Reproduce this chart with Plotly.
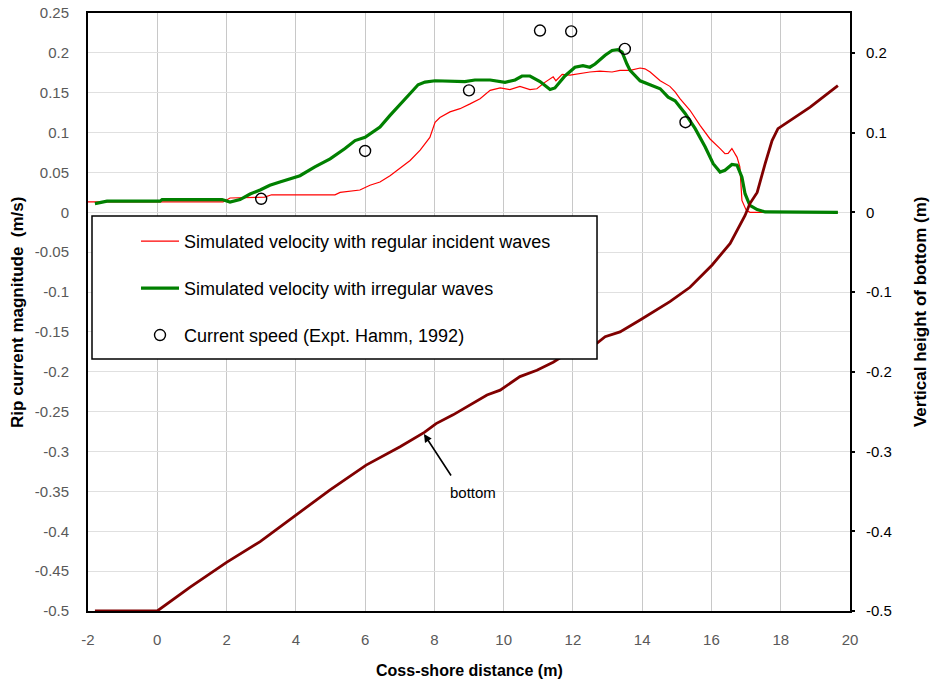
import plotly.graph_objects as go

# ---------------- data ----------------
reg_x = [-2.0, 1.9, 2.1, 2.68, 3.1, 3.3, 5.13, 5.28, 5.85, 6.14, 6.43, 6.72, 7.01, 7.30, 7.59, 7.87,
         8.02, 8.16, 8.45, 8.74, 9.03, 9.32, 9.61, 9.90, 10.18, 10.47, 10.76, 10.96, 11.19, 11.43,
         11.51, 11.69, 11.92, 12.06, 12.49, 12.78, 13.13, 13.36, 13.65, 13.94, 14.08, 14.23, 14.52,
         14.80, 14.95, 15.09, 15.38, 15.67, 15.96, 16.25, 16.39, 16.48, 16.59, 16.74, 16.82, 16.88,
         17.00, 17.11, 19.65]
reg_y = [0.013, 0.013, 0.018, 0.019, 0.019, 0.022, 0.022, 0.025, 0.028, 0.034, 0.038, 0.046, 0.055,
         0.065, 0.078, 0.094, 0.113, 0.119, 0.126, 0.130, 0.136, 0.1425, 0.153, 0.156, 0.154, 0.158,
         0.154, 0.155, 0.163, 0.170, 0.165, 0.173, 0.172, 0.173, 0.176, 0.177, 0.176, 0.178, 0.178,
         0.181, 0.180, 0.176, 0.165, 0.158, 0.151, 0.1425, 0.128, 0.109, 0.092, 0.080, 0.0735, 0.074,
         0.080, 0.069, 0.057, 0.015, 0.003, 0.0, 0.0]

irr_x = [-1.80, -1.57, -1.45, 0.08, 0.14, 1.87, 2.10, 2.39, 2.68, 2.97, 3.25, 3.54, 3.83, 4.12, 4.55,
         4.99, 5.42, 5.71, 6.00, 6.29, 6.43, 6.72, 7.01, 7.30, 7.53, 7.73, 8.02, 8.45, 8.88, 9.17,
         9.61, 10.04, 10.33, 10.53, 10.76, 11.05, 11.34, 11.48, 11.77, 12.06, 12.29, 12.49, 12.64,
         12.93, 13.13, 13.30, 13.42, 13.56, 13.65, 13.94, 14.23, 14.52, 14.75, 14.95, 15.24, 15.53,
         15.82, 16.05, 16.25, 16.39, 16.59, 16.74, 16.88, 16.97, 17.11, 17.32, 17.55, 19.65]
irr_y = [0.011, 0.0125, 0.014, 0.014, 0.016, 0.016, 0.013, 0.016, 0.023, 0.028, 0.034, 0.038, 0.042,
         0.046, 0.057, 0.067, 0.080, 0.090, 0.094, 0.102, 0.107, 0.1216, 0.136, 0.149, 0.160, 0.1634,
         0.165, 0.164, 0.164, 0.166, 0.166, 0.163, 0.166, 0.171, 0.171, 0.164, 0.154, 0.156, 0.171,
         0.182, 0.184, 0.182, 0.186, 0.197, 0.203, 0.204, 0.201, 0.186, 0.178, 0.165, 0.160, 0.155,
         0.1445, 0.140, 0.124, 0.105, 0.082, 0.061, 0.0505, 0.0527, 0.060, 0.059, 0.044, 0.0234,
         0.0088, 0.0034, 0.0005, 0.0]

obs_x = [3.0, 6.0, 9.0, 11.05, 11.95, 13.5, 15.25]
obs_y = [0.017, 0.077, 0.153, 0.228, 0.227, 0.205, 0.113]

bot_x = [-1.80, 0.0, 0.95, 2.0, 2.97, 4.0, 4.99, 6.03, 7.01, 7.71, 8.05, 8.54, 9.03, 9.52, 9.90, 10.10,
         10.47, 10.96, 11.43, 11.69, 12.2, 12.70, 12.93, 13.36, 13.94, 14.23, 14.80, 15.38, 16.02,
         16.54, 16.97, 17.11, 17.32, 17.55, 17.75, 17.92, 18.27, 18.85, 19.65]
bot_y = [-0.5, -0.5, -0.470, -0.439, -0.413, -0.380, -0.348, -0.317, -0.294, -0.276, -0.265, -0.254,
         -0.242, -0.229, -0.223, -0.217, -0.206, -0.198, -0.188, -0.181, -0.172, -0.164, -0.156,
         -0.150, -0.135, -0.127, -0.112, -0.094, -0.066, -0.039, -0.004, 0.011, 0.025, 0.061, 0.090,
         0.105, 0.115, 0.132, 0.159]

x_ticks = [-2, 0, 2, 4, 6, 8, 10, 12, 14, 16, 18, 20]
x_tick_text = ["-2", "0", "2", "4", "6", "8", "10", "12", "14", "16", "18", "20"]
left_ticks = [0.25, 0.2, 0.15, 0.1, 0.05, 0, -0.05, -0.1, -0.15, -0.2, -0.25, -0.3, -0.35, -0.4, -0.45, -0.5]
left_tick_text = ["0.25", "0.2", "0.15", "0.1", "0.05", "0", "-0.05", "-0.1", "-0.15", "-0.2",
                  "-0.25", "-0.3", "-0.35", "-0.4", "-0.45", "-0.5"]
right_ticks = [0.2, 0.1, 0, -0.1, -0.2, -0.3, -0.4, -0.5]
right_tick_text = ["0.2", "0.1", "0", "-0.1", "-0.2", "-0.3", "-0.4", "-0.5"]

FONT = "Liberation Sans, Arial, sans-serif"

fig = go.Figure()
fig.add_trace(go.Scatter(x=reg_x, y=reg_y, mode="lines", name="Simulated velocity with regular incident waves",
                         line=dict(color="#ff0000", width=1.2), legendgroup="a", legendrank=1))
fig.add_trace(go.Scatter(x=irr_x, y=irr_y, mode="lines", name="Simulated velocity with irregular waves",
                         line=dict(color="#008000", width=3.2), legendgroup="b", legendrank=2))
fig.add_trace(go.Scatter(x=obs_x, y=obs_y, mode="markers", name="Current speed (Expt. Hamm, 1992)",
                         marker=dict(symbol="circle-open", size=11, color="black", line=dict(width=1.4)),
                         legendgroup="c", legendrank=3))
fig.add_trace(go.Scatter(x=bot_x, y=bot_y, yaxis="y2", mode="lines", name="bottom",
                         line=dict(color="#800000", width=2.8), showlegend=False))

fig.update_layout(
    width=931, height=686,
    margin=dict(l=88, r=81, t=13, b=75, autoexpand=False),
    paper_bgcolor="white", plot_bgcolor="white",
    font=dict(family=FONT, size=15, color="black"),
    xaxis=dict(range=[-2, 20], tickvals=x_ticks, ticktext=x_tick_text, showgrid=True,
               gridcolor="#c8c8c8", gridwidth=1.3, showline=True, linecolor="black", linewidth=2,
               mirror=True, zeroline=False, ticks="", ticklabelstandoff=14, automargin=False,
               tickfont=dict(family=FONT, size=15, color="#595959")),
    yaxis=dict(range=[-0.5, 0.25], tickvals=left_ticks, ticktext=left_tick_text, showgrid=True,
               gridcolor="#e0e0e0", gridwidth=1, showline=True, linecolor="black", linewidth=2,
               zeroline=False, ticks="", ticklabelstandoff=14, automargin=False,
               tickfont=dict(family=FONT, size=15, color="#595959")),
    yaxis2=dict(range=[-0.5, 0.25], overlaying="y", side="right", tickvals=right_ticks,
                ticktext=right_tick_text, showgrid=False, showline=True, linecolor="black",
                linewidth=2, zeroline=False, ticks="outside", ticklen=3, tickwidth=1.5,
                tickcolor="black", ticklabelstandoff=8, automargin=False,
                tickfont=dict(family=FONT, size=15, color="black")),
    yaxis3=dict(range=[-0.5, 0.25], overlaying="y", side="right", tickvals=right_ticks,
                showticklabels=False, showgrid=False, showline=False, zeroline=False,
                ticks="inside", ticklen=6, tickwidth=1.5, tickcolor="black", automargin=False),
    legend=dict(x=0.063, y=0.6488, xanchor="left", yanchor="top", bgcolor="rgba(0,0,0,0)",
                borderwidth=0, font=dict(family=FONT, size=18, color="black"),
                tracegroupgap=20.5, itemwidth=38),
    showlegend=True,
)

# legend frame
fig.add_shape(type="rect", xref="paper", yref="paper", x0=0.00525, x1=0.668, y0=0.4214, y1=0.6605,
              fillcolor="white", line=dict(color="black", width=1.5), layer="above")

# axis titles
fig.add_annotation(text="<b>Coss-shore distance (m)</b>", xref="paper", yref="paper", x=0.5, y=-0.1003,
                   showarrow=False, font=dict(family=FONT, size=16, color="black"), yanchor="middle")
fig.add_annotation(text="<b>Rip current magnitude\u00a0 (m/s)</b>", xref="paper", yref="paper",
                   x=-0.0932, y=0.5, textangle=-90, showarrow=False, xanchor="center", yanchor="middle",
                   font=dict(family=FONT, size=17, color="black"))
fig.add_annotation(text="<b>Vertical height of bottom (m)</b>", xref="paper", yref="paper",
                   x=1.0919, y=0.5, textangle=-90, showarrow=False, xanchor="center", yanchor="middle",
                   font=dict(family=FONT, size=17, color="black"))

# "bottom" label with arrow
fig.add_annotation(text="bottom", x=9.12, y=-0.351, xref="x", yref="y", showarrow=False,
                   font=dict(family=FONT, size=15, color="black"))
fig.add_annotation(text="", x=7.7, y=-0.278, ax=8.51, ay=-0.332, xref="x", yref="y", axref="x", ayref="y",
                   showarrow=True, arrowhead=2, arrowsize=1, arrowwidth=1.6, arrowcolor="black")

fig.write_html("out.html")
